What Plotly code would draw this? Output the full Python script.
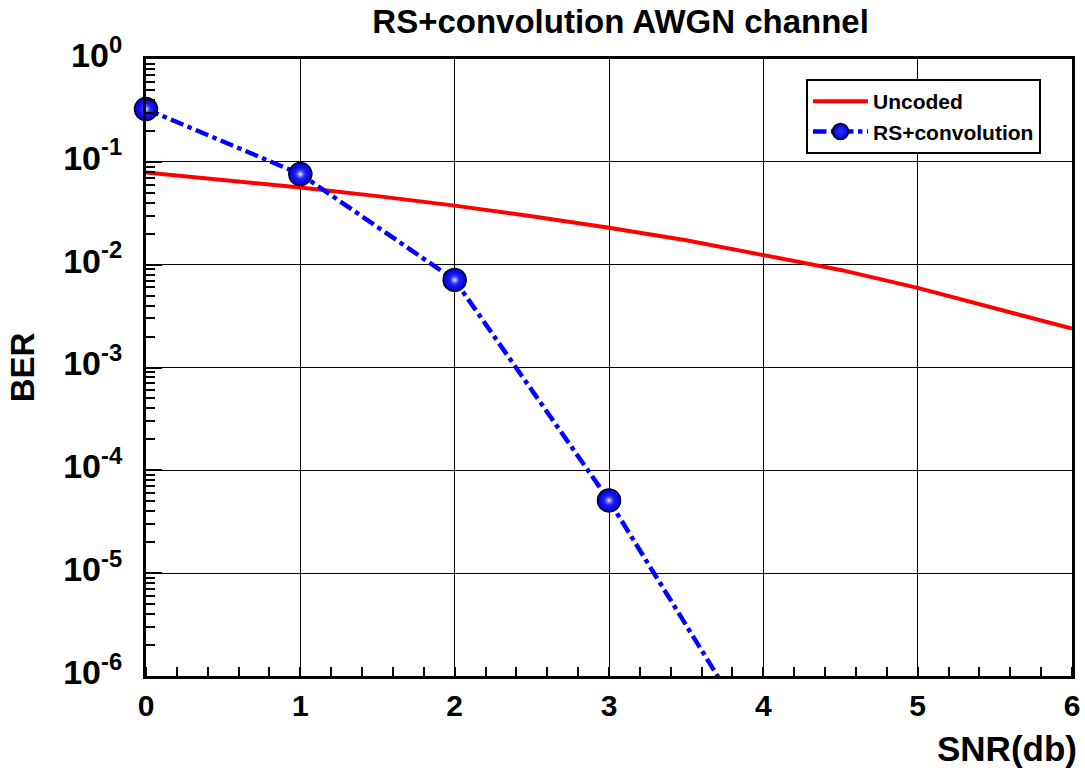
import plotly.graph_objects as go

# SNR points (dB) and bit error rates
snr_uncoded = [0, 0.5, 1, 1.5, 2, 2.5, 3, 3.5, 4, 4.5, 5, 5.5, 6]
ber_uncoded = [0.0786, 0.0671, 0.0563, 0.0464, 0.0375, 0.0296, 0.0229,
               0.0173, 0.0125, 0.00889, 0.00595, 0.00381, 0.00239]

snr_coded = [0, 1, 2, 3, 4]
ber_coded = [0.326, 0.076, 0.0071, 5.1e-5, 1.9e-7]

y_tickvals = [1, 1e-1, 1e-2, 1e-3, 1e-4, 1e-5, 1e-6]
y_ticktext = ["10<sup>0</sup>", "10<sup>-1</sup>", "10<sup>-2</sup>", "10<sup>-3</sup>",
              "10<sup>-4</sup>", "10<sup>-5</sup>", "10<sup>-6</sup>"]
x_tickvals = [0, 1, 2, 3, 4, 5, 6]

FONT = "Liberation Sans, Arial, sans-serif"

fig = go.Figure()

fig.add_trace(go.Scatter(
    x=snr_uncoded, y=ber_uncoded, mode="lines", name="Uncoded",
    line=dict(color="#ff0000", width=4),
))

fig.add_trace(go.Scatter(
    x=snr_coded, y=ber_coded, mode="lines+markers", name="RS+convolution",
    line=dict(color="#0000ff", width=4.5, dash="dashdot"),
    marker=dict(size=23, color="#0000e0", symbol="circle",
                gradient=dict(type="radial", color="#3030ff"),
                line=dict(color="black", width=1.5)),
    cliponaxis=False,
))

# glossy highlight on the sphere markers
fig.add_trace(go.Scatter(
    x=snr_coded, y=ber_coded, mode="markers", showlegend=False,
    hoverinfo="skip",
    marker=dict(size=12, color="rgba(40,40,255,0)", symbol="circle",
                gradient=dict(type="radial", color="#ffffff"),
                line=dict(width=0)),
    cliponaxis=False,
))

minor_y = [k * 10.0 ** e for e in range(-6, 0) for k in range(2, 10)]

fig.update_layout(
    width=1085, height=778,
    paper_bgcolor="white", plot_bgcolor="white",
    margin=dict(l=146, r=13, t=59, b=102),
    font=dict(family=FONT, color="black"),
    title=dict(text="<b>RS+convolution AWGN channel</b>", x=0.572, xanchor="center",
               y=0.972, yanchor="middle", font=dict(size=33, family=FONT)),
    showlegend=True,
    legend=dict(x=0.9665, xanchor="right", y=0.9676, yanchor="top",
                bgcolor="white", bordercolor="black", borderwidth=2,
                font=dict(size=21, family=FONT, weight="bold"),
                tracegroupgap=0, itemwidth=55),
)

fig.update_xaxes(
    range=[0, 6], tickvals=x_tickvals, automargin=False,
    showgrid=True, gridcolor="black", gridwidth=1.3,
    showline=True, linecolor="black", linewidth=3, mirror=True,
    ticks="", zeroline=False,
    tickfont=dict(size=30, family=FONT, weight="bold"),
    ticklabelstandoff=1,
    minor=dict(ticks="inside", dtick=0.2, ticklen=9, tickwidth=1.5,
               tickcolor="black", showgrid=False),
)

fig.update_yaxes(
    type="log", range=[-6, 0], automargin=False,
    tickmode="array", tickvals=y_tickvals, ticktext=y_ticktext,
    showgrid=True, gridcolor="black", gridwidth=1.3,
    showline=True, linecolor="black", linewidth=3, mirror=True,
    ticks="inside", ticklen=16, tickwidth=2, tickcolor="black",
    tickfont=dict(size=34, family=FONT, weight="bold"),
    ticklabelstandoff=14, ticklabelshift=-4,
    minor=dict(ticks="inside", tickmode="array", tickvals=minor_y, ticklen=9,
               tickwidth=1.5, tickcolor="black", showgrid=False),
)

# axis titles
fig.update_layout(
    annotations=[
        dict(text="<b>SNR(db)</b>", xref="paper", yref="paper", x=1.008, y=-0.083,
             xanchor="right", yanchor="top", showarrow=False,
             font=dict(size=35, family=FONT)),
        dict(text="<b>BER</b>", xref="paper", yref="paper", x=-0.133, y=0.5,
             xanchor="center", yanchor="middle", showarrow=False, textangle=-90,
             font=dict(size=33, family=FONT)),
    ],
)

fig.write_html("out.html")
